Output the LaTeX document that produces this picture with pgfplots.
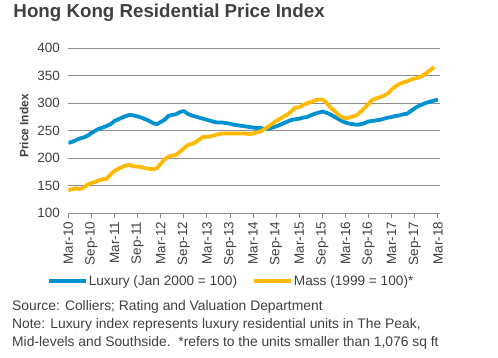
\documentclass[border=0pt]{standalone}
\usepackage{pgfplots}
\pgfplotsset{compat=1.18}
\usepackage{fontspec}
\setmainfont{Liberation Sans}
\definecolor{lux}{RGB}{0,146,208}
\definecolor{mass}{RGB}{255,185,0}
\definecolor{txt}{RGB}{64,64,64}
\definecolor{grd}{RGB}{140,140,140}
\begin{document}
\begin{tikzpicture}
\useasboundingbox (0,0) rectangle (498bp,-358bp);
\node[anchor=base west, inner sep=0, text=txt, font=\fontsize{18.8}{22}\selectfont\bfseries] at (13.3bp,-17.3bp) {Hong Kong Residential Price Index};
\node[rotate=90, inner sep=0, text=txt, font=\fontsize{12}{14}\selectfont\bfseries] at (24bp,-126bp) {Price Index};
\begin{scope}[every node/.style={anchor=base west, inner sep=0, text=txt, font=\fontsize{13.9}{16}\selectfont}]
\node at (12bp,-310bp) {Source: Colliers; Rating and Valuation Department};
\node at (12bp,-328bp) {Note: Luxury index represents luxury residential units in The Peak,};
\node at (12bp,-346bp) {Mid-levels and Southside.\ \ *refers to the units smaller than 1,076 sq ft};
\end{scope}
\begin{axis}[
  at={(68.3bp,-213.3bp)}, anchor=south west,
  scale only axis, width=371.5bp, height=165bp,
  xmin=0, xmax=96.5, ymin=100, ymax=400,
  ytick={100,150,...,400},
  xtick={0,6,...,96},
  xticklabels={Mar-10,Sep-10,Mar-11,Sep-11,Mar-12,Sep-12,Mar-13,Sep-13,Mar-14,Sep-14,Mar-15,Sep-15,Mar-16,Sep-16,Mar-17,Sep-17,Mar-18},
  axis x line*=bottom, axis y line*=left,
  y axis line style={draw=none},
  x axis line style={draw=grd, line width=0.8bp, -},
  ymajorgrids, grid style={draw=grd, line width=0.8bp},
  tick align=outside, major tick length=5bp,
  xtick style={draw=grd, line width=0.8bp},
  ytick style={draw=none},
  /pgf/number format/assume math mode=true,
  tick label style={font=\fontsize{13.5}{16}\selectfont, text=txt},
  xticklabel style={rotate=90, anchor=east},
  legend columns=2,
  legend style={at={(rel axis cs:-0.058,-0.41)}, anchor=west, draw=none, fill=none, inner sep=0pt,
    font=\fontsize{13.7}{16}\selectfont, text=txt,
    /tikz/every even column/.append style={column sep=14bp},
    nodes={inner sep=1bp}},
  legend image code/.code={\draw[#1] (0bp,0bp) -- (37bp,0bp);},
]
\addplot[lux, line width=3.8bp, line join=round] coordinates {
(0,228)(1,230)(2,233)(3,236)(4,238)(5,241)(6,246)(7,250)(8,254)(9,256)(10,259)(11,262)(12,268)(13,271)(14,274)(15,277)(16,279)(17,278)(18,276)(19,274)(20,271)(21,268)(22,264)(23,262)(24,266)(25,270)(26,277)(27,279)(28,280)(29,284)(30,286)(31,281)(32,278)(33,276)(34,274)(35,272)(36,270)(37,268)(38,266)(39,265)(40,265)(41,264)(42,263)(43,261)(44,260)(45,259)(46,258)(47,257)(48,256)(49,255)(50,255)(51,253)(52,254)(53,256)(54,258)(55,261)(56,264)(57,267)(58,270)(59,271)(60,272)(61,274)(62,275)(63,278)(64,281)(65,283)(66,285)(67,283)(68,280)(69,276)(70,272)(71,268)(72,265)(73,263)(74,262)(75,261)(76,262)(77,264)(78,267)(79,268)(80,269)(81,270)(82,272)(83,274)(84,275)(85,277)(86,278)(87,280)(88,281)(89,286)(90,291)(91,295)(92,298)(93,301)(94,303)(95,305)(96,307)
};
\addlegendentry{Luxury (Jan 2000 = 100)}
\addplot[mass, line width=3.8bp, line join=round] coordinates {
(0,142)(1,144)(2,145)(3,144)(4,147)(5,152)(6,155)(7,157)(8,160)(9,162)(10,163)(11,171)(12,177)(13,181)(14,184)(15,187)(16,188)(17,185)(18,185)(19,184)(20,182)(21,181)(22,180)(23,182)(24,190)(25,198)(26,203)(27,205)(28,206)(29,212)(30,218)(31,224)(32,226)(33,229)(34,234)(35,239)(36,239)(37,240)(38,242)(39,244)(40,245)(41,245)(42,245)(43,245)(44,245)(45,245)(46,245)(47,244)(48,245)(49,247)(50,249)(51,253)(52,258)(53,263)(54,268)(55,272)(56,276)(57,280)(58,286)(59,292)(60,293)(61,297)(62,300)(63,302)(64,305)(65,307)(66,307)(67,302)(68,293)(69,287)(70,280)(71,275)(72,273)(73,274)(74,276)(75,279)(76,285)(77,292)(78,299)(79,306)(80,309)(81,311)(82,314)(83,318)(84,325)(85,331)(86,335)(87,338)(88,340)(89,343)(90,345)(91,347)(92,350)(93,355)(94,360)(95,366)
};
\addlegendentry{Mass (1999 = 100)*}
\end{axis}
\end{tikzpicture}
\end{document}
